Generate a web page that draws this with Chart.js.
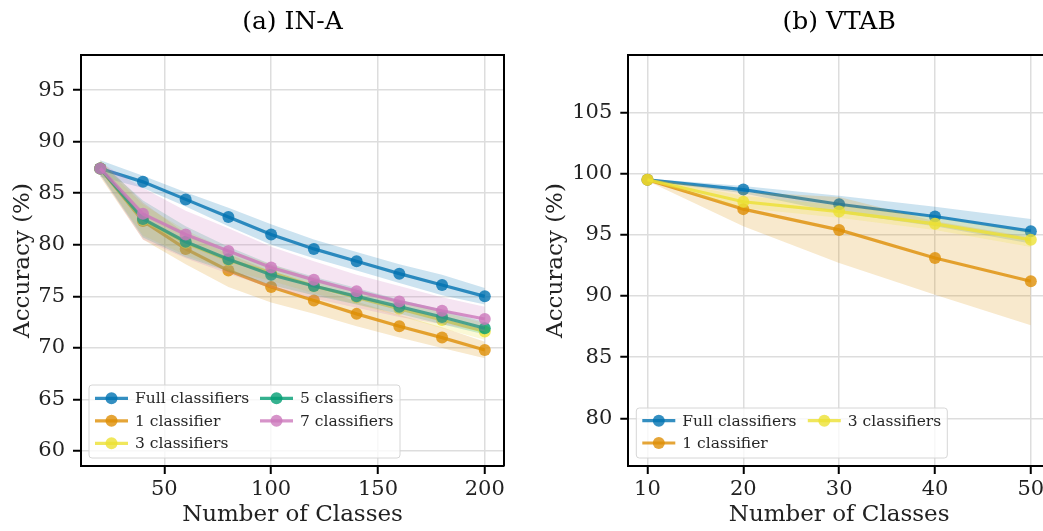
<!doctype html>
<html>

<head>
	<title>Accuracy vs Number of Classes</title>
	<script src="https://cdn.jsdelivr.net/npm/chart.js@4.4.1/dist/chart.umd.min.js"></script>
	<style>
	html, body {
		margin: 0;
		padding: 0;
		overflow: hidden;
		background: #fff;
	}
	#left { position: absolute; left: 0; top: 0; }
	#right { position: absolute; left: 520px; top: 0; }
	</style>
</head>

<body>
	<canvas id="left" width="520" height="531" style="width:520px;height:531px"></canvas>
	<canvas id="right" width="550" height="531" style="width:550px;height:531px"></canvas>
	<script>
		// (a) IN-A
		const classesA = [20, 40, 60, 80, 100, 120, 140, 160, 180, 200];
		const fullA = [87.4, 86.1, 84.4, 82.7, 81.0, 79.6, 78.4, 77.2, 76.1, 75.0];
		const fullSpreadA = [0.8, 0.6, 0.7, 0.9, 1.0, 0.9, 0.9, 0.9, 1.0, 0.8];
		const oneA = [87.4, 82.3, 79.6, 77.5, 75.9, 74.6, 73.3, 72.1, 71.0, 69.8];
		const oneSpreadA = [0.8, 1.8, 1.5, 1.6, 1.5, 1.3, 1.2, 1.1, 1.0, 0.8];
		const threeA = [87.4, 82.4, 80.2, 78.5, 77.3, 76.0, 74.9, 73.8, 72.7, 71.6];
		const threeSpreadA = [0.5, 1.5, 1.2, 1.0, 0.8, 0.7, 0.7, 0.7, 0.8, 0.8];
		const fiveA = [87.4, 82.5, 80.3, 78.6, 77.1, 76.0, 75.0, 74.0, 73.0, 71.9];
		const fiveSpreadA = [0.6, 1.8, 1.5, 1.2, 1.0, 0.9, 0.8, 0.7, 0.7, 0.6];
		const sevenA = [87.4, 83.0, 81.0, 79.4, 77.8, 76.6, 75.5, 74.5, 73.6, 72.8];
		const sevenSpreadA = [0.6, 2.5, 2.3, 2.2, 2.0, 1.8, 1.6, 1.5, 1.3, 1.2];
		const xTicksA = [50, 100, 150, 200];
		const yTicksA = [60, 65, 70, 75, 80, 85, 90, 95];

		// (b) VTAB
		const classesB = [10, 20, 30, 40, 50];
		const fullB = [99.5, 98.7, 97.5, 96.5, 95.3];
		const fullSpreadB = [0.1, 0.3, 0.7, 0.8, 1.0];
		const oneB = [99.5, 97.1, 95.4, 93.1, 91.2];
		const oneSpreadB = [0.1, 1.4, 2.7, 3.0, 3.6];
		const threeB = [99.5, 97.7, 96.9, 95.9, 94.6];
		const threeSpreadB = [0.1, 0.5, 0.5, 0.5, 0.6];
		const xTicksB = [10, 20, 30, 40, 50];
		const yTicksB = [80, 85, 90, 95, 100, 105];

		const seriesNames = ['Full classifiers', '1 classifier', '3 classifiers', '5 classifiers', '7 classifiers'];
		const colors = {
			blue: [1, 115, 178],
			orange: [222, 143, 5],
			yellow: [236, 225, 51],
			green: [2, 158, 115],
			pink: [204, 120, 188]
		};

		const serif = 'DejaVu Serif';
		const rgba = (c, a) => 'rgba(' + c.join(',') + ',' + a + ')';

		function buildDatasets(xs, series) {
			const out = [];
			const n = series.length;
			series.forEach((s, k) => {
				const order = (n - k) * 10;
				out.push({
					data: xs.map((x, i) => ({x: x, y: s.values[i] - s.spread[i]})),
					borderWidth: 0, pointRadius: 0, fill: false, order: order + 2
				});
				out.push({
					data: xs.map((x, i) => ({x: x, y: s.values[i] + s.spread[i]})),
					borderWidth: 0, pointRadius: 0, fill: '-1',
					backgroundColor: rgba(s.color, 0.2), order: order + 1
				});
				out.push({
					label: s.label,
					data: xs.map((x, i) => ({x: x, y: s.values[i]})),
					borderColor: rgba(s.color, 0.8),
					backgroundColor: rgba(s.color, 0.8),
					pointBackgroundColor: rgba(s.color, 0.8),
					pointBorderWidth: 0,
					pointRadius: 6,
					borderWidth: 3.2,
					fill: false,
					tension: 0,
					order: order,
					swatch: s.color
				});
			});
			return out;
		}

		// top / right spines
		const framePlugin = {
			id: 'frame',
			afterDraw(chart) {
				const {ctx, chartArea: a} = chart;
				ctx.save();
				ctx.strokeStyle = '#000';
				ctx.lineWidth = 2;
				ctx.beginPath();
				ctx.moveTo(a.left, a.top);
				ctx.lineTo(a.right, a.top);
				ctx.lineTo(a.right, a.bottom);
				ctx.stroke();
				ctx.restore();
			}
		};

		// matplotlib-like legend box, column-major
		const boxLegend = {
			id: 'boxLegend',
			afterDraw(chart, args, opts) {
				const {ctx, chartArea: a} = chart;
				const items = chart.data.datasets.filter(d => d.label);
				const left = a.left + opts.x;
				const top = a.bottom - opts.y - opts.h;
				ctx.save();
				ctx.beginPath();
				ctx.roundRect(left, top, opts.w, opts.h, 3);
				ctx.fillStyle = 'rgba(255,255,255,0.8)';
				ctx.fill();
				ctx.strokeStyle = '#d6d6d6';
				ctx.lineWidth = 1;
				ctx.stroke();
				ctx.font = opts.fontSize + 'px "' + serif + '"';
				ctx.textBaseline = 'middle';
				ctx.textAlign = 'left';
				items.forEach((d, i) => {
					const col = Math.floor(i / opts.rows);
					const row = i % opts.rows;
					const x0 = left + 6 + col * opts.colWidth;
					const y = top + opts.firstRow + row * opts.rowGap;
					ctx.strokeStyle = rgba(d.swatch, 0.8);
					ctx.lineWidth = 3.2;
					ctx.beginPath();
					ctx.moveTo(x0, y);
					ctx.lineTo(x0 + 33, y);
					ctx.stroke();
					ctx.fillStyle = rgba(d.swatch, 0.8);
					ctx.beginPath();
					ctx.arc(x0 + 16.5, y, 6, 0, Math.PI * 2);
					ctx.fill();
					ctx.fillStyle = '#262626';
					ctx.fillText(d.label, x0 + 40, y + 1);
				});
				ctx.restore();
			}
		};

		function scaleOpts(min, max, ticks, titleText, isX, fitSize, titlePad) {
			return {
				type: 'linear',
				min: min,
				max: max,
				afterBuildTicks: axis => { axis.ticks = ticks.map(v => ({value: v})); },
				afterFit: axis => {
					if (isX) { axis.height = fitSize; } else { axis.width = fitSize; }
				},
				border: {display: true, color: '#000', width: 2},
				grid: {
					color: '#dddddd',
					lineWidth: 1.5,
					drawTicks: true,
					tickLength: 8,
					tickColor: '#000',
					tickWidth: 2
				},
				ticks: {
					color: '#222',
					padding: isX ? 3 : 8,
					maxRotation: 0,
					font: {family: serif, size: 21}
				},
				title: {
					display: true,
					text: titleText,
					color: '#222',
					font: {family: serif, size: 23}
				,
					padding: isX ? {top: 0, bottom: titlePad} : {top: titlePad, bottom: 0}
				}
			};
		}

		function chartOptions(titleText, padRight, xs, ys, yWidth, yTitlePad, legendOpts) {
			return {
				responsive: false,
				animation: false,
				layout: {padding: {left: 0, right: padRight, top: 0, bottom: 0}},
				plugins: {
					legend: {display: false},
					tooltip: {enabled: false},
					filler: {propagate: false},
					title: {
						display: true,
						text: titleText,
						fullSize: false,
						color: '#000',
						font: {family: serif, size: 25, weight: 'normal'},
						padding: {top: 7, bottom: 18}
					},
					boxLegend: legendOpts
				},
				scales: {
					x: scaleOpts(xs.min, xs.max, xs.ticks, 'Number of Classes', true, 65, 2.2),
					y: scaleOpts(ys.min, ys.max, ys.ticks, 'Accuracy (%)', false, yWidth, yTitlePad)
				}
			};
		}

		window.onload = function() {
			new Chart(document.getElementById('left').getContext('2d'), {
				type: 'line',
				data: {
					datasets: buildDatasets(classesA, [
						{label: seriesNames[0], values: fullA, spread: fullSpreadA, color: colors.blue},
						{label: seriesNames[1], values: oneA, spread: oneSpreadA, color: colors.orange},
						{label: seriesNames[2], values: threeA, spread: threeSpreadA, color: colors.yellow},
						{label: seriesNames[3], values: fiveA, spread: fiveSpreadA, color: colors.green},
						{label: seriesNames[4], values: sevenA, spread: sevenSpreadA, color: colors.pink}
					])
				},
				options: chartOptions('(a) IN-A', 16,
					{min: 11, max: 209, ticks: xTicksA},
					{min: 58.55, max: 98.4, ticks: yTicksA},
					81, 9.2,
					{x: 8, y: 8, w: 311, h: 73, rows: 3, colWidth: 165, firstRow: 13.3, rowGap: 22.5, fontSize: 15.5}),
				plugins: [framePlugin, boxLegend]
			});

			new Chart(document.getElementById('right').getContext('2d'), {
				type: 'line',
				data: {
					datasets: buildDatasets(classesB, [
						{label: seriesNames[0], values: fullB, spread: fullSpreadB, color: colors.blue},
						{label: seriesNames[1], values: oneB, spread: oneSpreadB, color: colors.orange},
						{label: seriesNames[2], values: threeB, spread: threeSpreadB, color: colors.yellow}
					])
				},
				options: chartOptions('(b) VTAB', 20,
					{min: 8, max: 52, ticks: xTicksB},
					{min: 76.1, max: 109.7, ticks: yTicksB},
					108.3, 22.2,
					{x: 8, y: 8, w: 311, h: 50, rows: 2, colWidth: 165.5, firstRow: 12.7, rowGap: 22.3, fontSize: 15.5}),
				plugins: [framePlugin, boxLegend]
			});
		};
	</script>
</body>

</html>
